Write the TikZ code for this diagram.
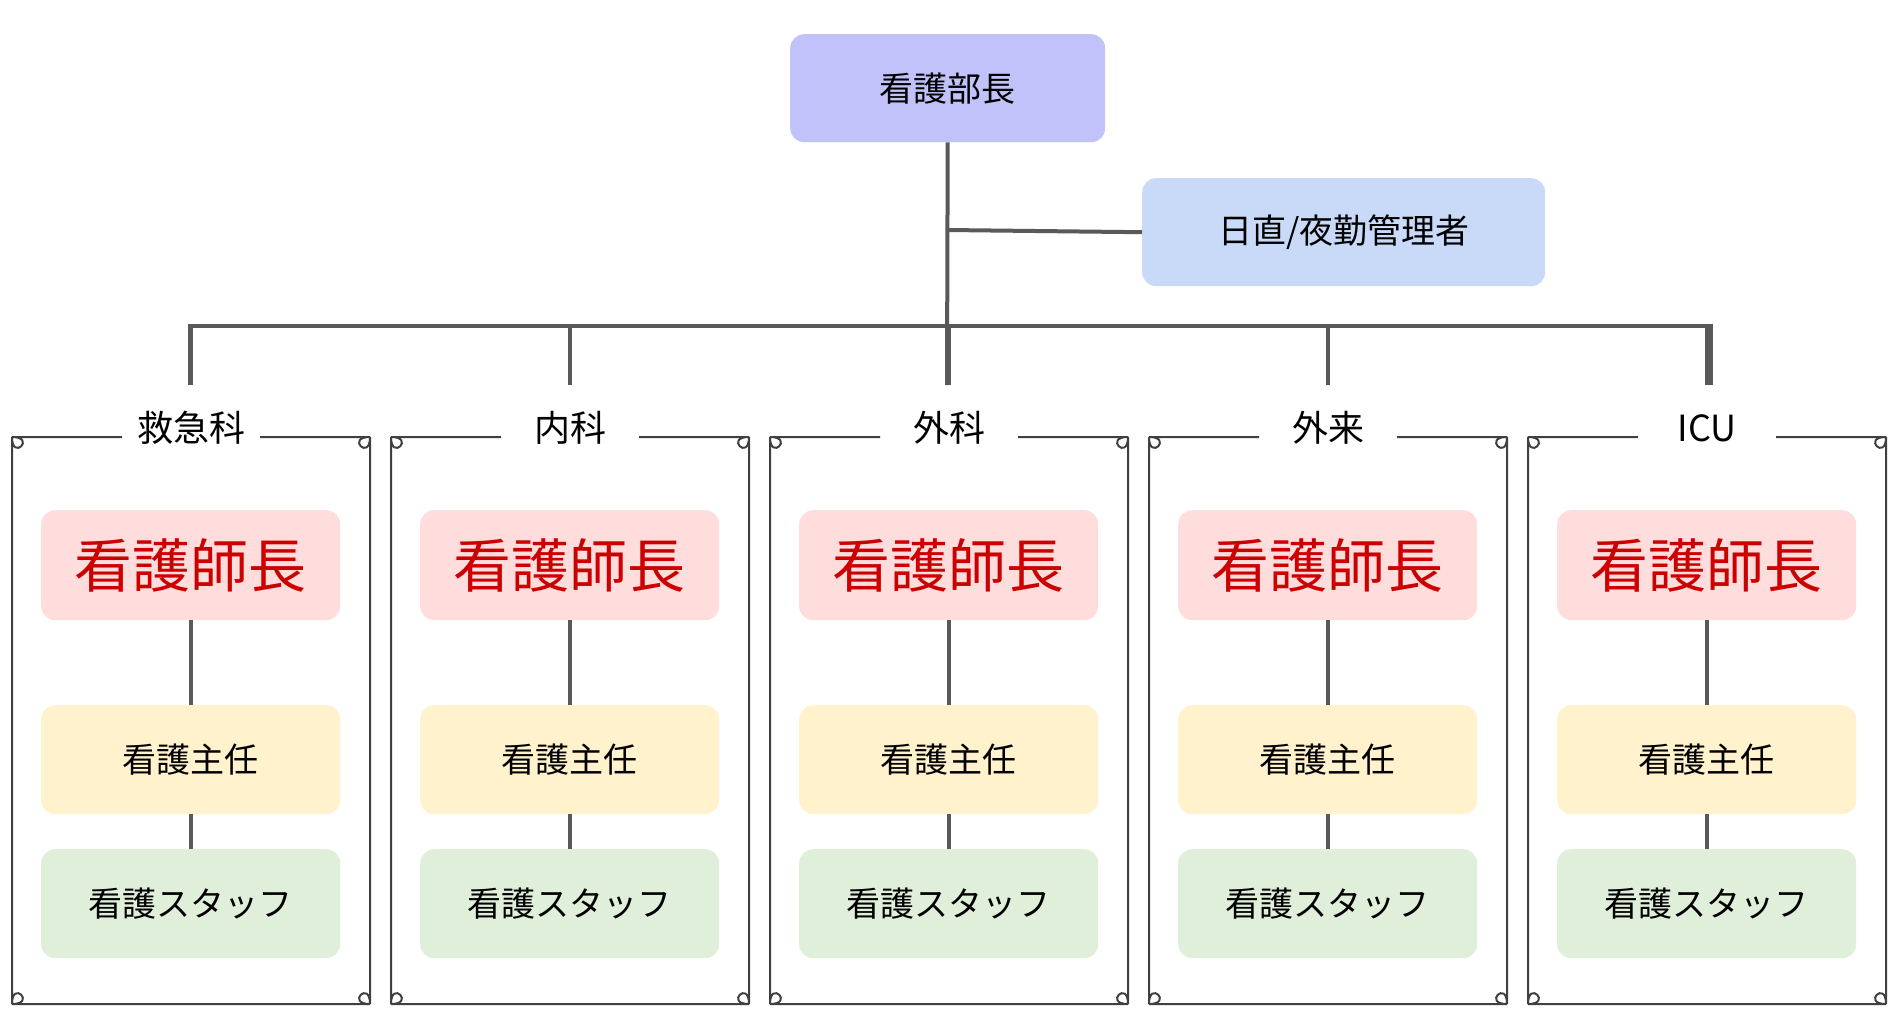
\documentclass[tikz,border=0pt]{standalone}
\usepackage{fontspec}
\setmainfont{Noto Sans CJK JP}
\begin{document}
\begin{tikzpicture}[x=1pt,y=-1pt,
  box/.style={rounded corners=14pt,inner sep=0pt,anchor=north west},
  conn/.style={draw=black!65,line width=4pt},
  frame/.style={draw=black!75,line width=2pt,rounded corners=55pt}]
\useasboundingbox (0,0) rectangle (1899,1021);
\definecolor{topc}{HTML}{C2C2FA}
\definecolor{dutyc}{HTML}{C9DAF8}
\definecolor{redf}{HTML}{FFDDDD}
\definecolor{redt}{HTML}{CC0000}
\definecolor{yelf}{HTML}{FFF2CC}
\definecolor{grnf}{HTML}{E0EFDA}
\node[box,fill=topc,minimum width=315pt,minimum height=108pt] (top) at (790,34) {};
\node at (top.center) {\fontsize{34}{40}\selectfont 看護部長};
\node[box,fill=dutyc,minimum width=403pt,minimum height=108pt] (duty) at (1142,178) {};
\node at (duty.center) {\fontsize{34}{40}\selectfont 日直/夜勤管理者};
\coordinate (tb) at (947,142);
\coordinate (tr) at (947,230);
\draw[conn] (top.south) -- (947,385);
\draw[conn] (tr) -- (duty.west);
\draw[conn] (190,385) -- (190,326) -- (1711,326) -- (1711,385);
\foreach \cx/\nm/\lab in {191/a/救急科,570/b/内科,949/c/外科,1328/d/外来,1707/e/ICU}{
  \coordinate (drop\nm) at (\cx,326);
  \draw[conn] (drop\nm) -- (\cx,385);
  \draw[frame] (\cx-103,437) -- (\cx-179+55,437) arc[start angle=270,end angle=180,x radius=55pt,y radius=-55pt]
     -- (\cx-179,1004-55) arc[start angle=180,end angle=90,x radius=55pt,y radius=-55pt]
     -- (\cx+179-55,1004) arc[start angle=90,end angle=0,x radius=55pt,y radius=-55pt]
     -- (\cx+179,437+55) arc[start angle=0,end angle=-90,x radius=55pt,y radius=-55pt]
     -- (\cx+103,437);
  \node (l\nm) at (\cx,428) {\fontsize{36}{40}\selectfont \lab};
  \node[box,fill=redf,minimum width=299pt,minimum height=110pt] (h\nm) at (\cx-150,510) {};
  \node[text=redt] at (h\nm.center) {\fontsize{58}{64}\selectfont 看護師長};
  \node[box,fill=yelf,minimum width=299pt,minimum height=109pt] (s\nm) at (\cx-150,705) {};
  \node at (s\nm.center) {\fontsize{34}{40}\selectfont 看護主任};
  \node[box,fill=grnf,minimum width=299pt,minimum height=109pt] (f\nm) at (\cx-150,849) {};
  \node at (f\nm.center) {\fontsize{34}{40}\selectfont 看護スタッフ};
  \draw[conn] (h\nm.south) -- (s\nm.north);
  \draw[conn] (s\nm.south) -- (f\nm.north);
}
\end{tikzpicture}
\end{document}
